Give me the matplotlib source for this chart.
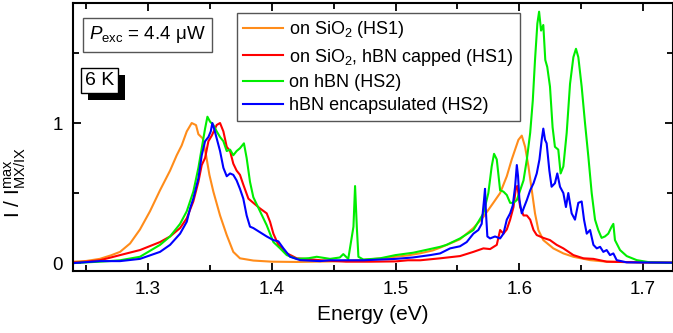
import numpy as np
from matplotlib import pyplot as plt
from matplotlib.ticker import MultipleLocator
from matplotlib import patheffects

plt.rcParams['font.family'] = ['Liberation Sans', 'DejaVu Sans']
plt.rcParams['mathtext.fontset'] = 'custom'
plt.rcParams['mathtext.rm'] = 'Liberation Sans'
plt.rcParams['mathtext.it'] = 'Liberation Sans:italic'

# on SiO2 (HS1)
e_sio2 = [1.240, 1.250, 1.261, 1.270, 1.2774, 1.2855, 1.2935, 1.3016, 1.3097, 1.3178, 1.3232, 1.3272,
          1.3313, 1.3353, 1.3388, 1.3407, 1.3442, 1.3469, 1.3496, 1.3528, 1.3582, 1.3636, 1.3689, 1.3743,
          1.3851, 1.400, 1.420, 1.450, 1.470, 1.490, 1.500, 1.510, 1.520, 1.530, 1.536, 1.5521, 1.5629,
          1.571, 1.579, 1.5845, 1.5899, 1.5939, 1.5966, 1.5993, 1.602, 1.6047, 1.6074, 1.6101, 1.6127,
          1.6154, 1.6194, 1.6275, 1.6356, 1.6437, 1.6572, 1.6707, 1.700, 1.724]
i_sio2 = [0.01, 0.015, 0.03, 0.055, 0.08, 0.14, 0.24, 0.37, 0.52, 0.66, 0.77, 0.84,
          0.94, 1.0, 0.985, 0.92, 0.89, 0.77, 0.63, 0.51, 0.34, 0.20, 0.08, 0.034,
          0.018, 0.01, 0.008, 0.012, 0.02, 0.035, 0.045, 0.055, 0.07, 0.09, 0.11, 0.17, 0.25,
          0.33, 0.43, 0.50, 0.62, 0.74, 0.81, 0.88, 0.91, 0.83, 0.69, 0.52, 0.355,
          0.236, 0.164, 0.105, 0.069, 0.045, 0.021, 0.01, 0.005, 0.003]

# on SiO2, hBN capped (HS1)
e_cap = [1.240, 1.250, 1.261, 1.270, 1.2774, 1.2935, 1.3097, 1.3178, 1.3259, 1.3313, 1.3366, 1.3407,
         1.3434, 1.3461, 1.3488, 1.3515, 1.3555, 1.3582, 1.3609, 1.3636, 1.3663, 1.3689, 1.3716, 1.3743,
         1.3770, 1.3811, 1.3851, 1.3905, 1.3959, 1.3986, 1.4013, 1.4053, 1.4121, 1.4202, 1.4336, 1.44,
         1.46, 1.48, 1.50, 1.51, 1.52, 1.536, 1.5521, 1.5629, 1.571, 1.5764, 1.5818, 1.5845, 1.5872,
         1.5899, 1.5926, 1.5953, 1.5974, 1.5985, 1.6007, 1.6034, 1.6061, 1.6088, 1.6115, 1.6141, 1.6194,
         1.6248, 1.6302, 1.6356, 1.6437, 1.6518, 1.6599, 1.6707, 1.6976, 1.724]
i_cap = [0.005, 0.01, 0.02, 0.04, 0.057, 0.093, 0.15, 0.19, 0.25, 0.32, 0.44, 0.58,
         0.70, 0.75, 0.87, 0.91, 0.986, 1.0, 0.94, 0.83, 0.80, 0.71, 0.66, 0.63,
         0.56, 0.46, 0.43, 0.39, 0.355, 0.295, 0.21, 0.13, 0.07, 0.034, 0.025, 0.02,
         0.01, 0.01, 0.012, 0.02, 0.02, 0.034, 0.05, 0.08, 0.105, 0.10, 0.13, 0.236, 0.21,
         0.24, 0.31, 0.40, 0.545, 0.55, 0.40, 0.34, 0.34, 0.31, 0.236, 0.20, 0.18,
         0.164, 0.13, 0.105, 0.057, 0.034, 0.03, 0.01, 0.005, 0.003]

# on hBN (HS2)
e_hbn = [1.240, 1.250, 1.261, 1.270, 1.2774, 1.2935, 1.3097, 1.3178, 1.3259, 1.3313, 1.3366, 1.3407,
         1.3434, 1.3461, 1.3480, 1.3501, 1.3528, 1.3555, 1.3582, 1.3609, 1.3636, 1.3663, 1.3689, 1.3716,
         1.3743, 1.3775, 1.3797, 1.3824, 1.3851, 1.3905, 1.3959, 1.4013, 1.4067, 1.4121, 1.4202, 1.43,
         1.4363, 1.4471, 1.455, 1.4578, 1.4618, 1.466, 1.4673, 1.4687, 1.470, 1.4741, 1.4875, 1.500,
         1.5143, 1.5278, 1.536, 1.5412, 1.5521, 1.5629, 1.571, 1.575, 1.5777, 1.5796, 1.5818, 1.5845,
         1.5872, 1.5899, 1.5926, 1.5953, 1.598, 1.6007, 1.6034, 1.6061, 1.6088, 1.6109, 1.6127, 1.6146,
         1.616, 1.6176, 1.6194, 1.621, 1.6226, 1.6248, 1.6269, 1.6288, 1.6315, 1.6334, 1.6356, 1.6383,
         1.641, 1.6437, 1.6458, 1.6477, 1.6504, 1.6531, 1.6558, 1.6585, 1.6612, 1.6638, 1.6665, 1.6692,
         1.6719, 1.6746, 1.676, 1.6773, 1.6814, 1.6868, 1.6949, 1.7056, 1.724]
i_hbn = [0.0, 0.005, 0.01, 0.015, 0.02, 0.045, 0.13, 0.19, 0.28, 0.37, 0.51, 0.68,
         0.82, 0.96, 1.045, 1.01, 0.986, 0.94, 0.90, 0.87, 0.80, 0.81, 0.77, 0.80,
         0.82, 0.855, 0.75, 0.58, 0.47, 0.37, 0.27, 0.15, 0.105, 0.057, 0.03, 0.035,
         0.045, 0.03, 0.04, 0.064, 0.03, 0.26, 0.55, 0.26, 0.045, 0.025, 0.034, 0.057,
         0.074, 0.10, 0.116, 0.13, 0.176, 0.236, 0.355, 0.50, 0.69, 0.78, 0.74, 0.52,
         0.51, 0.486, 0.43, 0.43, 0.45, 0.52, 0.59, 0.74, 0.93, 1.16, 1.45, 1.71,
         1.795, 1.66, 1.70, 1.45, 1.40, 1.26, 0.97, 0.83, 0.81, 0.64, 0.69, 0.93,
         1.28, 1.47, 1.53, 1.47, 1.26, 1.0, 0.76, 0.50, 0.31, 0.236, 0.18, 0.19,
         0.21, 0.26, 0.28, 0.164, 0.093, 0.05, 0.021, 0.005, 0.002]

# hBN encapsulated (HS2)
e_enc = [1.240, 1.2612, 1.2774, 1.2935, 1.3097, 1.3178, 1.3259, 1.3313, 1.334, 1.3366, 1.3407, 1.3434,
         1.3461, 1.3488, 1.3507, 1.352, 1.3534, 1.3555, 1.3582, 1.3609, 1.3636, 1.3663, 1.3689, 1.3716,
         1.3743, 1.377, 1.3797, 1.3824, 1.3851, 1.3905, 1.3959, 1.4013, 1.4053, 1.4094, 1.4148, 1.4229,
         1.439, 1.4471, 1.4741, 1.500, 1.514, 1.528, 1.536, 1.5441, 1.5521, 1.5575, 1.5629, 1.5669,
         1.5696, 1.5715, 1.5723, 1.5731, 1.5742, 1.5764, 1.5804, 1.5845, 1.5872, 1.5899, 1.5926, 1.5947,
         1.5966, 1.598, 1.599, 1.6001, 1.602, 1.6039, 1.6061, 1.6088, 1.6115, 1.6141, 1.6163, 1.6181,
         1.6194, 1.6208, 1.6221, 1.6243, 1.6261, 1.6288, 1.6307, 1.6329, 1.6356, 1.6377, 1.6396, 1.6423,
         1.645, 1.6477, 1.6504, 1.6523, 1.6545, 1.6572, 1.6599, 1.6626, 1.6653, 1.6679, 1.6706, 1.6733,
         1.676, 1.6787, 1.6868, 1.724]
i_enc = [0.0, 0.014, 0.014, 0.03, 0.08, 0.13, 0.21, 0.295, 0.39, 0.46, 0.605, 0.77,
         0.87, 0.90, 0.94, 1.0, 0.96, 0.89, 0.80, 0.68, 0.62, 0.64, 0.63, 0.59,
         0.53, 0.46, 0.34, 0.26, 0.25, 0.22, 0.19, 0.164, 0.155, 0.105, 0.045, 0.021,
         0.014, 0.02, 0.02, 0.03, 0.04, 0.057, 0.069, 0.105, 0.12, 0.15, 0.21, 0.236,
         0.28, 0.45, 0.53, 0.355, 0.19, 0.176, 0.19, 0.176, 0.21, 0.31, 0.355, 0.41,
         0.545, 0.70, 0.62, 0.45, 0.355, 0.40, 0.45, 0.52, 0.57, 0.64, 0.74, 0.88,
         0.96, 0.88, 0.855, 0.66, 0.545, 0.57, 0.64, 0.545, 0.50, 0.40, 0.50, 0.355,
         0.31, 0.43, 0.44, 0.31, 0.21, 0.236, 0.13, 0.105, 0.116, 0.08, 0.093, 0.057,
         0.069, 0.021, 0.005, 0.003]

labels = ['on SiO$_2$ (HS1)', 'on SiO$_2$, hBN capped (HS1)', 'on hBN (HS2)', 'hBN encapsulated (HS2)']
colors = ['#ff8c1a', '#ff0000', '#00ee00', '#0000ff']

fig = plt.figure(figsize=(6.73, 3.33), dpi=100)
ax = fig.add_axes([0.1085, 0.186, 0.8915, 0.805])

for e, i, lab, c in zip([e_sio2, e_cap, e_hbn, e_enc], [i_sio2, i_cap, i_hbn, i_enc], labels, colors):
    ax.plot(e, i, c=c, lw=1.5, label=lab)

ax.set_xlim(1.2394, 1.7242)
ax.set_ylim(-0.057, 1.857)
ax.xaxis.set_major_locator(MultipleLocator(0.1))
ax.xaxis.set_minor_locator(MultipleLocator(0.05))
ax.yaxis.set_major_locator(MultipleLocator(1))
ax.yaxis.set_minor_locator(MultipleLocator(0.5))
ax.tick_params(which='both', direction='in', top=True, right=True, width=1.3, labelsize=13.5)
ax.tick_params(which='major', length=6, pad=7.5)
ax.tick_params(which='minor', length=4)
for s in ax.spines.values():
    s.set_linewidth(1.5)

ax.set_xlabel('Energy (eV)', fontsize=15, labelpad=5)
ax.set_ylabel(r'I / I$_{\mathrm{MX/IX}}^{\mathrm{max}}$', fontsize=15)
ax.yaxis.set_label_coords(-0.075, 0.33)

leg = ax.legend(loc='upper left', bbox_to_anchor=(0.273, 0.963), borderaxespad=0, fancybox=False,
                framealpha=1, edgecolor='#555555', fontsize=13, handlelength=2.2, handletextpad=0.35,
                labelspacing=0.35, borderpad=0.35)
leg.get_frame().set_linewidth(1.0)

ax.text(0.027, 0.92, r'$P$$_{\mathrm{exc}}$ = 4.4 μW', transform=ax.transAxes, ha='left', va='top',
        fontsize=13.5, bbox=dict(boxstyle='square,pad=0.35', fc='white', ec='#555555', lw=1.0))
t = ax.text(0.02, 0.742, '6 K', transform=ax.transAxes, ha='left', va='top', fontsize=14,
            bbox=dict(boxstyle='square,pad=0.2', fc='white', ec='black', lw=1.0))
t.get_bbox_patch().set_path_effects([
    patheffects.SimplePatchShadow(offset=(5, -5), shadow_rgbFace='black', alpha=1),
    patheffects.Normal()])

plt.savefig('out.png', dpi=100)
